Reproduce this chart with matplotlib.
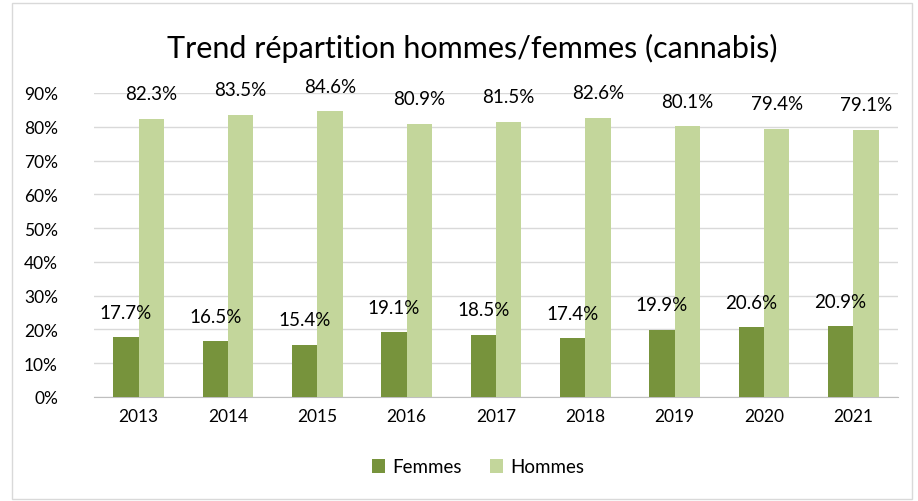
import matplotlib.pyplot as plt
import numpy as np
from matplotlib.patches import Rectangle

years = ["2013", "2014", "2015", "2016", "2017", "2018", "2019", "2020", "2021"]
femmes = [17.7, 16.5, 15.4, 19.1, 18.5, 17.4, 19.9, 20.6, 20.9]
hommes = [82.3, 83.5, 84.6, 80.9, 81.5, 82.6, 80.1, 79.4, 79.1]

plt.rcParams['font.family'] = ['Lato', 'DejaVu Sans']

fig = plt.figure(figsize=(9.18, 5.02), dpi=100)
fig.patches.append(Rectangle((12 / 918, 2 / 502), 900 / 918, 496 / 502,
                             transform=fig.transFigure, fill=False,
                             edgecolor="#D9D9D9", linewidth=1))
ax = fig.add_axes([94 / 918, 104 / 502, 804 / 918, 304 / 502])

x = np.arange(len(years))
w = 0.285
b1 = ax.bar(x - w / 2, femmes, w, color="#77933C", label="Femmes", zorder=3)
b2 = ax.bar(x + w / 2, hommes, w, color="#C3D69B", label="Hommes", zorder=3)

for bars, vals in ((b1, femmes), (b2, hommes)):
    for r, v in zip(bars, vals):
        ax.annotate(f"{v:.1f}%", (r.get_x() + r.get_width() / 2, v),
                    xytext=(0, 12), textcoords="offset points",
                    ha="center", va="bottom", fontsize=13.5)

ax.set_xlim(-0.5, len(years) - 0.5)
ax.set_ylim(0, 90)
ax.set_yticks(range(0, 91, 10))
ax.set_yticklabels([f"{t}%" for t in range(0, 91, 10)], fontsize=12.5)
ax.set_xticks(x)
ax.set_xticklabels(years, fontsize=12.5)
ax.tick_params(length=0, pad=8)
ax.tick_params(axis="y", pad=26)
ax.grid(axis="y", color="#D9D9D9", linewidth=1, zorder=0)
for s in ["top", "right", "left"]:
    ax.spines[s].set_visible(False)
ax.spines["bottom"].set_color("#BFBFBF")

fig.text(472 / 918, 1 - 48 / 502, "Trend répartition hommes/femmes (cannabis)",
         ha="center", va="center", fontsize=22)
fig.legend(handles=[b1, b2], loc="center", bbox_to_anchor=(478 / 918, 1 - 468 / 502),
           ncol=2, frameon=False, fontsize=13.5, handlelength=0.7, handleheight=0.7,
           handletextpad=0.4, columnspacing=1.5)

fig.savefig("out.png", dpi=100)
